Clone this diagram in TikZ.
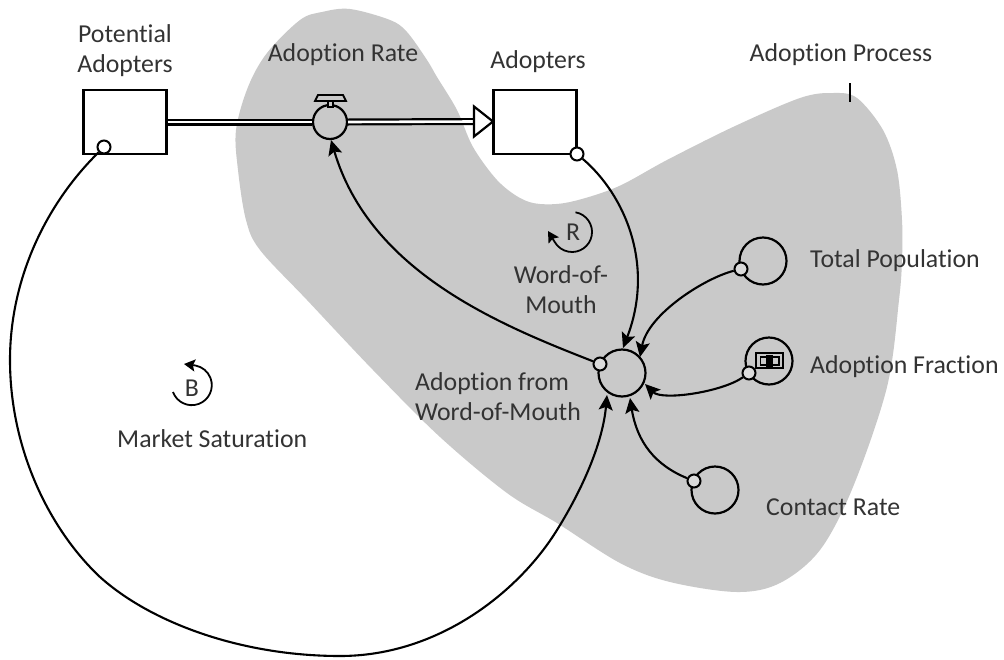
\documentclass[tikz,border=0pt]{standalone}
\usepackage{fontspec}
\setmainfont{Carlito}[Ligatures=CommonOff]
\usetikzlibrary{arrows.meta}
\definecolor{blobgray}{gray}{0.79}
\definecolor{portgray}{gray}{0.86}
\definecolor{txt}{gray}{0.2}
\tikzset{
  x=1pt,y=-1pt,
  lbl/.style={font=\fontsize{25.8}{30}\selectfont,text=txt,align=center,inner sep=0pt},
  lblL/.style={lbl,align=left,anchor=west},
  stock/.style={draw=black,line width=2.2pt,fill=white,minimum width=83pt,minimum height=64pt,inner sep=0pt},
  aux/.style={circle,draw=black,line width=2.2pt,minimum size=47pt,inner sep=0pt},
  port/.style={circle,draw=black,line width=2pt,minimum size=13pt,inner sep=0pt,fill=portgray},
  portw/.style={port,fill=white},
  link/.style={draw=black,line width=2.1pt,-{Stealth[length=15pt,width=14pt,inset=3pt]}},
  loopline/.style={draw=black,line width=1.8pt,-{Stealth[length=11pt,width=12pt,inset=2pt]}}
}
\begin{document}
\begin{tikzpicture}
\useasboundingbox (0,0) rectangle (1004,659);
\fill[white] (0,0) rectangle (1004,659);
\fill[blobgray] plot[smooth cycle,tension=0.55] coordinates {
 (350,9) (390,20) (407,32) (427,60) (437,77) (457,110) (473,147) (497,180) (520,198) (540,204)
 (570,202) (617,187) (667,160) (733,127) (800,98) (833,93) (857,98) (883,130) (897,170) (902,220)
 (902,260) (899,300) (887,387) (853,487) (820,550) (780,583) (737,592) (670,582) (620,563) (557,523)
 (507,493) (440,437) (373,370) (307,300) (260,250) (246,220) (238,170) (236,130) (248,87) (267,53)
 (300,20) (322,12)};
% stocks
\node[stock] (pa) at (125,122) {};
\node[stock] (ad) at (535,122) {};
% flow
\node[circle,draw=black,line width=2.2pt,minimum size=34pt,inner sep=0pt] (valve) at (330,122) {};
\coordinate (flowend) at (493,121.5);
\coordinate (flowbase) at (474,121.5);
\draw[black,line width=7pt] (pa.east) -- (valve.west);
\draw[white,line width=2.6pt] (pa.east) -- (valve.west);
\draw[black,line width=7pt] (valve.east) -- (flowbase);
\draw[white,line width=2.6pt] (valve.east) -- (flowbase);
\draw[black,line width=2.2pt,fill=white,line join=miter] ([yshift=-15pt]flowbase) -- (flowend) -- ([yshift=15pt]flowbase) -- cycle;
\draw[black,line width=1.8pt,fill=blobgray] (315,101) -- (346,101) -- (343,95) -- (318,95) -- cycle;
\draw[black,line width=1.6pt,fill=blobgray] (328,101) rectangle (333,107);
% converters
\node[aux] (awm) at (622,373) {};
\node[aux] (tp) at (763,261) {};
\node[aux] (af) at (769,361) {};
\node[aux] (cr) at (715,490) {};
% adoption fraction icon
\draw[black,line width=1.6pt] (756,353) rectangle (783,368);
\draw[black,line width=1.6pt] (760.5,357) rectangle (779,365);
\fill[black] (766,355) rectangle (773,367);
% ports
\node[portw] (ppa) at (104,147) {};
\node[portw] (pad) at (577,154) {};
\node[port] (ptp) at (741,269) {};
\node[port] (paf) at (749,373) {};
\node[port] (pcr) at (694,481) {};
\node[port] (pawm) at (600,364) {};
% link ends
\coordinate (t1) at (623,348);
\coordinate (t2) at (640,357);
\coordinate (t3) at (645,384);
\coordinate (t4) at (630,398);
\coordinate (t5) at (607,395);
\coordinate (t6) at (331,140);
% links
\draw[link] (pad) .. controls (625,195) and (655,265) .. (t1);
\draw[link] (ptp) .. controls (705,278) and (648,314) .. (t2);
\draw[link] (paf) .. controls (722,392) and (662,401) .. (t3);
\draw[link] (pcr) .. controls (655,465) and (637,442) .. (t4);
\draw[link] (pawm) .. controls (500,325) and (370,272) .. (t6);
\draw[link] (ppa) .. controls (45,205) and (10,280) .. (10,360)
  .. controls (10,450) and (50,530) .. (100,577)
  .. controls (150,622) and (240,656) .. (340,656)
  .. controls (440,656) and (520,590) .. (557,530)
  .. controls (585,485) and (603,440) .. (t5);
% loops
\coordinate (rs) at (575.5,212.3);
\coordinate (rt) at (548,231);
\draw[loopline] (rs) arc[start angle=80,end angle=-150,radius=20pt] -- (rt);
\node[lbl] (rl) at (573,232) {R};
\coordinate (bs) at (173,392);
\coordinate (bt) at (184,364);
\draw[loopline] (bs) arc[start angle=200,end angle=440,radius=20pt] -- (bt);
\node[lbl] (bl) at (192,388) {B};
% labels
\node[lbl] (l1) at (125,51) {Potential\\Adopters};
\node[lbl] (l2) at (343,55) {Adoption Rate};
\node[lbl] (l3) at (538,62) {Adopters};
\node[lbl] (l4) at (841,55) {Adoption Process};
\coordinate (ts) at (850,83);
\coordinate (te) at (850,102);
\draw[black,line width=2pt] (ts) -- (te);
\node[lbl] (l5) at (561,290) {Word-of-\\Mouth};
\node[lblL] (l6) at (415,397) {Adoption from\\Word-of-Mouth};
\node[lblL] (l7) at (810,261) {Total Population};
\node[lblL] (l8) at (810,367) {Adoption Fraction};
\node[lblL] (l9) at (766,507) {Contact Rate};
\node[lblL] (l10) at (117,439) {Market Saturation};
\end{tikzpicture}
\end{document}
